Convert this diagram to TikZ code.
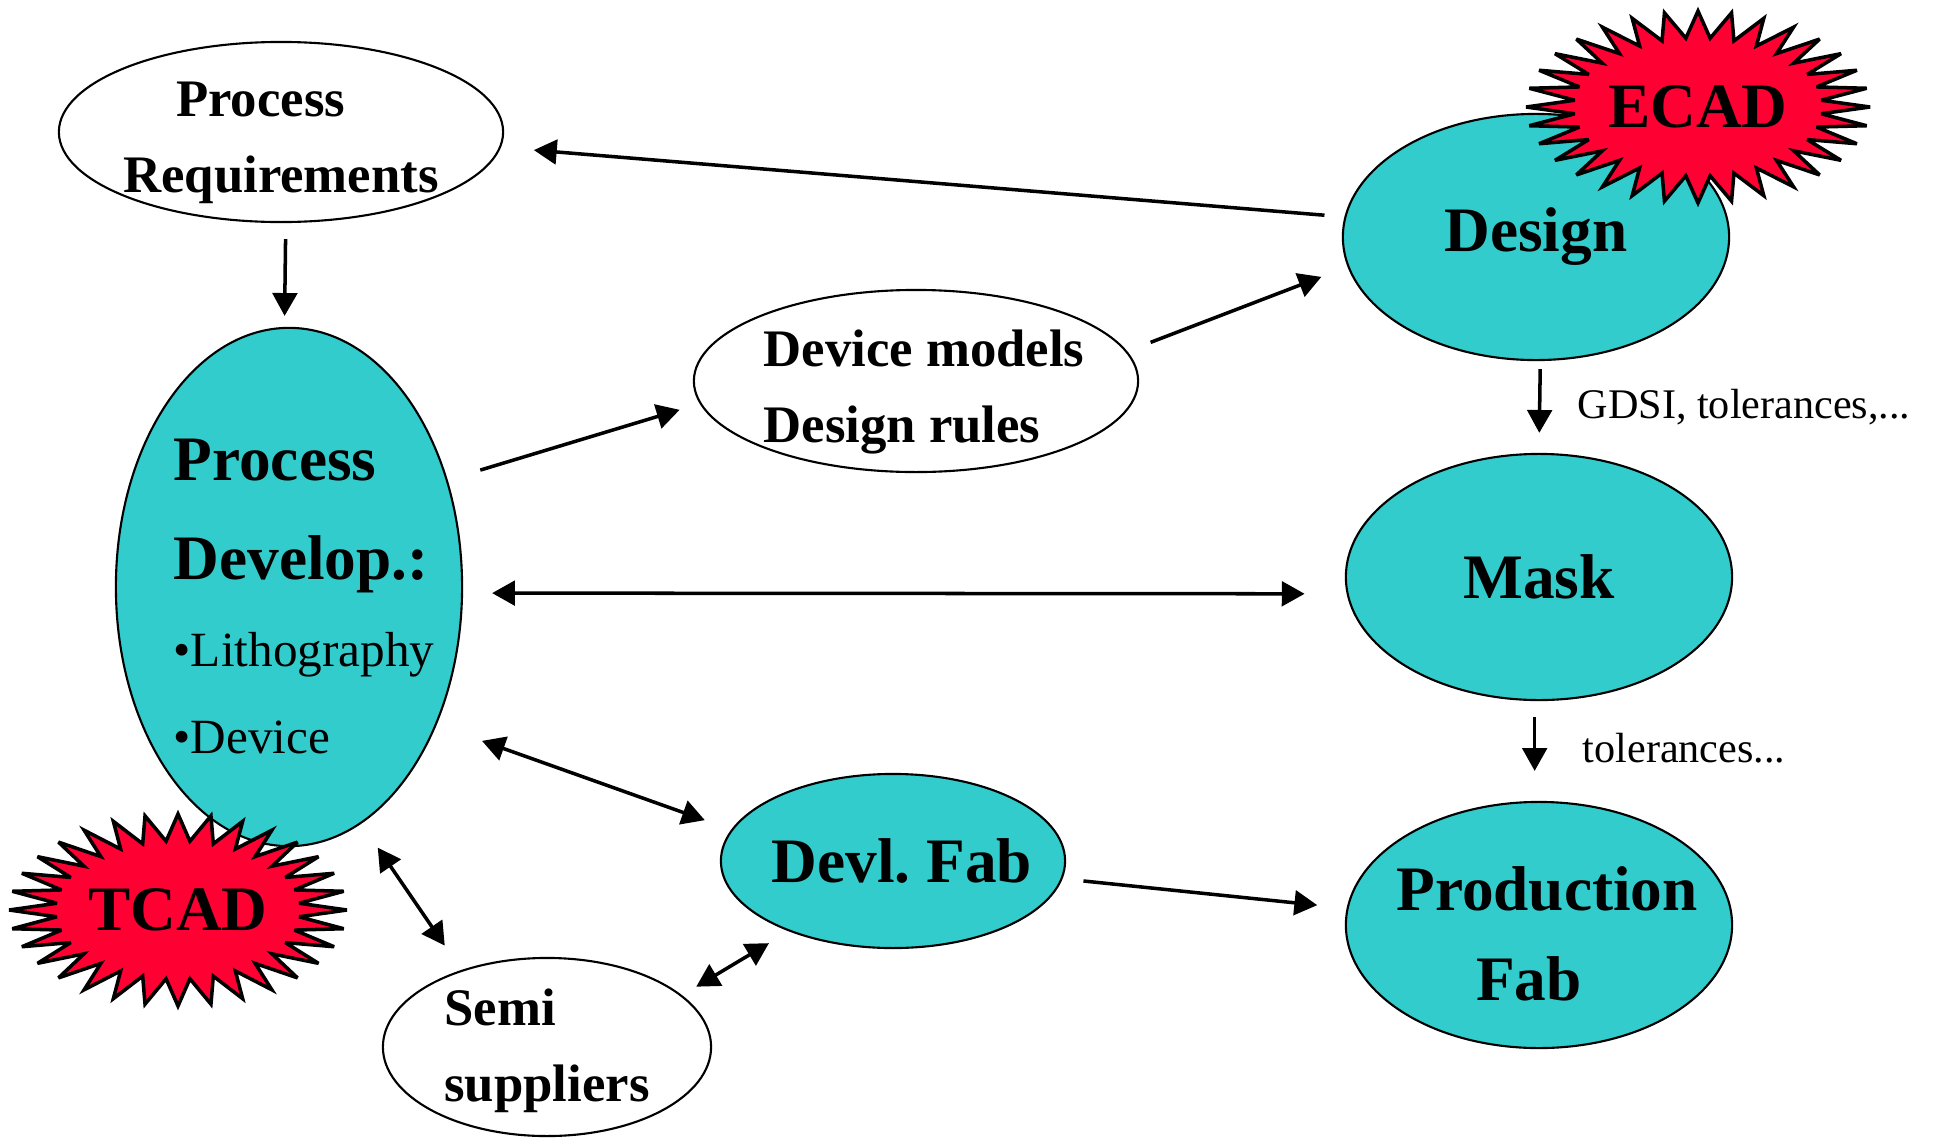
\documentclass[tikz,border=0pt]{standalone}
\usepackage{fontspec}
\setmainfont{Liberation Serif}
\usetikzlibrary{shapes.geometric,arrows.meta}
\definecolor{devcyan}{RGB}{51,204,204}
\definecolor{burstred}{RGB}{255,0,51}
\newcommand{\bigbf}{\fontsize{18}{28.2}\selectfont\bfseries}
\newcommand{\midbf}{\fontsize{15}{21.6}\selectfont\bfseries}
\newcommand{\bullettxt}{\fontsize{14}{24.8}\selectfont\mdseries}
\newcommand{\notetxt}{\fontsize{12}{14}\selectfont}

\begin{document}
\begin{tikzpicture}[x=0.01cm, y=-0.01cm,
    plainoval/.style={ellipse, draw, line width=0.6pt, fill=white, inner sep=-0.2cm},
    fabstep/.style={ellipse, draw, line width=0.6pt, fill=devcyan, inner sep=-0.2cm},
    burstline/.style={draw, line width=1pt, fill=burstred, miter limit=4},
    flow/.style={-{Triangle[length=6.5pt,width=7pt]}, line width=1pt},
    twoway/.style={{Triangle[length=6.5pt,width=7pt]}-{Triangle[length=6.5pt,width=7pt]}, line width=1pt}]
      \useasboundingbox (0,0) rectangle (1935,1139);

      \node (preq) [plainoval, minimum width=4.44cm, minimum height=1.8cm, font=\midbf, align=left] at (281,132)
        {\hspace*{0.53cm}\rule{0pt}{15.8pt}Process\\Requirements};
      \node (pdev) [fabstep, inner xsep=-0.6cm, minimum width=3.46cm, minimum height=5.18cm, font=\bigbf, align=left] at (289,587)
        {\hspace*{0.3cm}\rule{0pt}{17.3pt}Process\\\hspace*{0.3cm}Develop.:\\[-3.4pt]\hspace*{0.3cm}{\bullettxt •Lithography}\\[-3.4pt]\hspace*{0.3cm}{\bullettxt •Device}};
      \draw[burstline] plot[domain=0:63, samples=64, variable=\k]
        ({178+169*(1-0.28*mod(\k,2))*cos(\k*5.625)}, {910+96*(1-0.28*mod(\k,2))*sin(\k*5.625)}) -- cycle;
      \node (tcad) [font=\bigbf] at (178,910) {TCAD};
      \node (devm) [plainoval, minimum width=4.44cm, minimum height=1.82cm, font=\midbf, align=left] at (916,381)
        {\hspace*{0.16cm}\rule{0pt}{16.5pt}Device models\\\hspace*{0.16cm}Design rules};
      \node (design) [fabstep, minimum width=3.86cm, minimum height=2.46cm, font=\bigbf] at (1536,237) {Design};
      \draw[burstline] plot[domain=0:63, samples=64, variable=\k]
        ({1698+172*(1-0.28*mod(\k,2))*cos(\k*5.625)}, {107+96*(1-0.28*mod(\k,2))*sin(\k*5.625)}) -- cycle;
      \node (ecad) [font=\bigbf] at (1698,107) {ECAD};
      \node (mask) [fabstep, minimum width=3.86cm, minimum height=2.46cm, font=\bigbf] at (1539,577) {Mask};
      \node (prod) [fabstep, inner xsep=-0.5cm, minimum width=3.86cm, minimum height=2.46cm, font=\bigbf, align=center] at (1539,925)
        {\hspace*{0.16cm}\rule{0pt}{17.3pt}Production\\[-2.6pt]\hspace*{0.16cm}Fab\hspace*{0.36cm}};
      \node (devfab) [fabstep, minimum width=3.44cm, minimum height=1.74cm, font=\bigbf] at (893,861) {\hspace*{0.18cm}Devl.\ Fab};
      \node (semi) [plainoval, minimum width=3.28cm, minimum height=1.78cm, font=\midbf, align=left] at (547,1047)
        {\rule{0pt}{12.5pt}Semi\\suppliers};
      \node (gdsi) [anchor=west, inner sep=0pt, font=\notetxt] at (1577,407) {GDSI, tolerances,...};
      \node (tol) [anchor=west, inner sep=0pt, font=\notetxt] at (1582,748) {tolerances...};

      \draw[flow, shorten <=0.2cm, shorten >=0.33cm] (design.174.5) -- (preq.-4.8);
      \draw[flow, shorten <=0.16cm, shorten >=0.11cm] (preq.-87) -- (pdev.91);
      \draw[flow, shorten <=0.34cm, shorten >=0.21cm] (pdev.34) -- (devm.186.1);
      \draw[flow, shorten <=0.25cm, shorten >=0.28cm] (devm.8.6) -- (design.189.9);
      \draw[flow, shorten <=0.08cm, shorten >=0.2cm] (design.-88) -- (mask.north);
      \draw[flow, shorten <=0.16cm, shorten >=0.3cm] (mask.-92.3) -- (prod.92.3);
      \draw[twoway, shorten <=0.29cm, shorten >=0.42cm] (pdev.-2.3) -- (mask.185.1);
      \draw[twoway, shorten <=0.48cm, shorten >=0.28cm] (pdev.-43.7) -- (devfab.169.1);
      \draw[twoway, shorten <=0.29cm, shorten >=0.295cm] (pdev.-73.3) -- (semi.138.8);
      \draw[twoway, shorten <=0.165cm, shorten >=0.23cm] (semi.21) -- (devfab.-146.5);
      \draw[flow, shorten <=0.21cm, shorten >=0.295cm] (devfab.-6.4) -- (prod.175.2);
    \end{tikzpicture}
\end{document}
